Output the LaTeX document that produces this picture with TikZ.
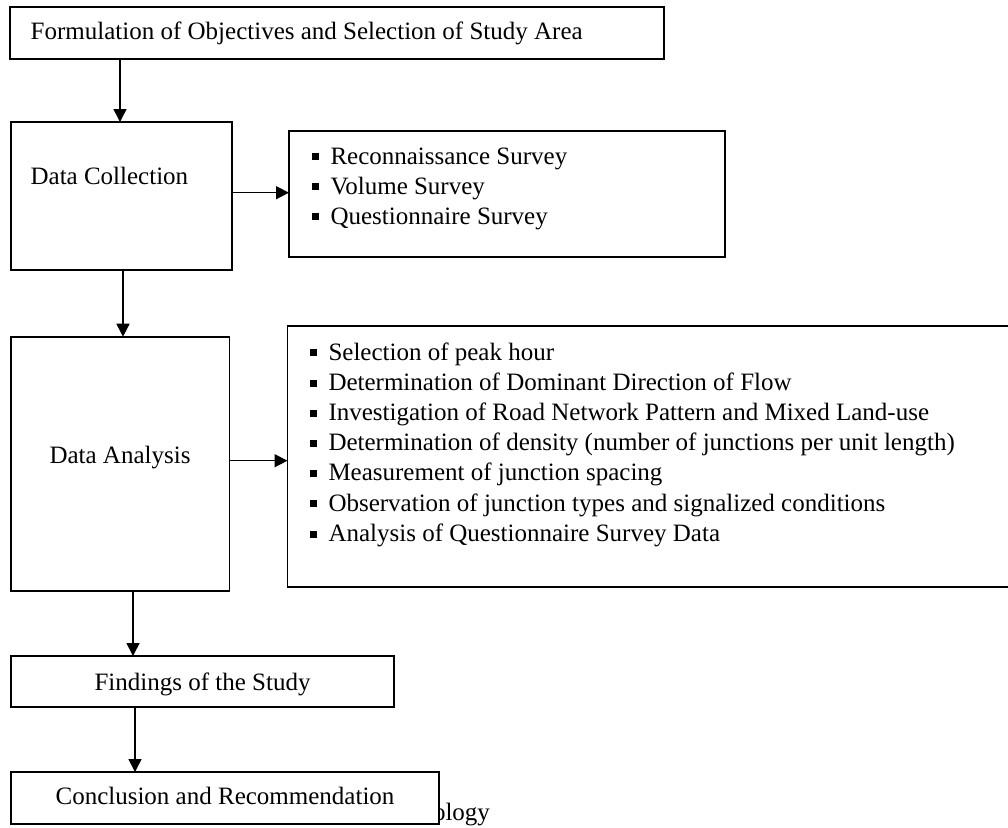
\documentclass[tikz,border=0pt]{standalone}
\usepackage{fontspec}
\setmainfont{Liberation Serif}
\usetikzlibrary{arrows.meta}
\newcommand{\bulsq}{\rule[3.6pt]{7pt}{7pt}\hspace{12pt}}
\tikzset{
  box/.style={draw=black, line width=1.6pt, fill=white, inner sep=0pt, outer sep=0pt, anchor=north west},
  txt/.style={inner sep=0pt, outer sep=0pt, font=\fontsize{25}{30}\selectfont},
  arr/.style={line width=1.5pt, -{Triangle[length=13pt,width=13pt]}}
}
\begin{document}
\begin{tikzpicture}[x=1pt,y=-1pt]
\path[use as bounding box, fill=white] (0,0) rectangle (1008,827);

% caption fragment, partly covered by the last box
\node[txt, anchor=base west] (cap) at (433,820) {ology};

% boxes
\node[box, minimum width=654pt, minimum height=52pt] (top) at (10,7) {};
\node[box, minimum width=221.3pt, minimum height=148pt] (dc) at (10.7,122) {};
\node[box, minimum width=436pt, minimum height=126pt] (sv) at (289,131) {};
\node[box, minimum width=218.6pt, minimum height=254.3pt] (da) at (11,336.7) {};
\node[box, minimum width=727.5pt, minimum height=260.7pt] (an) at (287.5,326) {};
\node[box, minimum width=383pt, minimum height=51pt] (fi) at (11,656) {};
\node[box, minimum width=428pt, minimum height=52pt] (co) at (11,772) {};

% texts
\node[txt, anchor=base west] (ttop) at (30.7,39) {Formulation of Objectives and Selection of Study Area};
\node[txt, anchor=base west] (tdc) at (30.6,184) {Data Collection};
\node[txt, anchor=base] (tda) at (120,463) {Data Analysis};
\node[txt, anchor=base] (tfi) at (202.5,690) {Findings of the Study};
\node[txt, anchor=base] (tco) at (225,804) {Conclusion and Recommendation};

% survey list
\node[txt, anchor=base west] (s1) at (311.5,164) {\bulsq Reconnaissance Survey};
\node[txt, anchor=base west] (s2) at (311.5,194) {\bulsq Volume Survey};
\node[txt, anchor=base west] (s3) at (311.5,224) {\bulsq Questionnaire Survey};

% analysis list
\node[txt, anchor=base west] (a1) at (309.5,360) {\bulsq Selection of peak hour};
\node[txt, anchor=base west] (a2) at (309.5,390.2) {\bulsq Determination of Dominant Direction of Flow};
\node[txt, anchor=base west] (a3) at (309.5,420.4) {\bulsq Investigation of Road Network Pattern and Mixed Land-use};
\node[txt, anchor=base west] (a4) at (309.5,450.6) {\bulsq Determination of density (number of junctions per unit length)};
\node[txt, anchor=base west] (a5) at (309.5,480.8) {\bulsq Measurement of junction spacing};
\node[txt, anchor=base west] (a6) at (309.5,511) {\bulsq Observation of junction types and signalized conditions};
\node[txt, anchor=base west] (a7) at (309.5,541.2) {\bulsq Analysis of Questionnaire Survey Data};

% connectors
\draw[arr] ([xshift=110pt]top.south west) -- ([xshift=110pt]top.south west |- dc.north);
\draw[arr] ([xshift=112.3pt]dc.south west) -- ([xshift=112.3pt]dc.south west |- da.north);
\draw[arr] ([xshift=122pt]da.south west) -- ([xshift=122pt]da.south west |- fi.north);
\draw[arr] ([xshift=124pt]fi.south west) -- ([xshift=124pt]fi.south west |- co.north);
\draw[arr] ([yshift=-70.7pt]dc.north east) -- ([yshift=-70.7pt]dc.north east -| sv.west);
\draw[arr] ([yshift=-124pt]da.north east) -- ([yshift=-124pt]da.north east -| an.west);
\end{tikzpicture}
\end{document}
